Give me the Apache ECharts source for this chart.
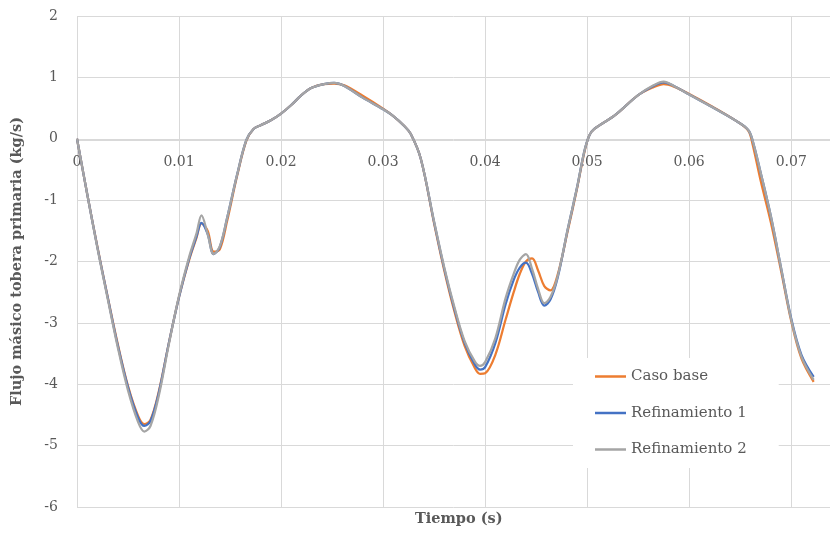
<!DOCTYPE html>
<html><head><meta charset="utf-8">
<script src="https://cdn.jsdelivr.net/npm/echarts@6/dist/echarts.min.js"></script>
<style>html,body{margin:0;padding:0;background:#fff}#c{width:830px;height:534px}</style>
</head><body><div id="c"></div>
<script>
const time = [0,0.001,0.002,0.003,0.004,0.005,0.006,0.0066,0.0072,0.008,
  0.009,0.010,0.011,0.0117,0.0122,0.0128,0.0134,0.014,0.0147,0.0157,
  0.0166,0.0173,0.018,0.019,0.020,0.021,0.022,0.023,0.0242,0.0252,
  0.0262,0.028,0.030,0.031,0.032,0.0327,0.0337,0.035,0.036,0.037,
  0.038,0.039,0.0395,0.040,0.041,0.042,0.0428,0.0434,0.044,0.0446,
  0.0452,0.0458,0.0464,0.0471,0.0481,0.049,0.0497,0.0502,0.0507,0.0527,
  0.055,0.0565,0.0575,0.0585,0.060,0.0622,0.0648,0.0658,0.0662,0.067,
  0.068,0.069,0.070,0.071,0.0722];
const casoBase = [0,-0.9,-1.76,-2.57,-3.35,-4.03,-4.52,-4.65,-4.58,-4.13,
  -3.33,-2.58,-1.97,-1.62,-1.38,-1.5,-1.84,-1.8,-1.35,-0.6,
  -0.03,0.16,0.22,0.3,0.41,0.55,0.71,0.83,0.89,0.9,
  0.87,0.7,0.49,0.37,0.22,0.08,-0.33,-1.38,-2.15,-2.82,
  -3.38,-3.74,-3.83,-3.82,-3.52,-2.95,-2.5,-2.2,-2.0,-1.95,
  -2.15,-2.4,-2.47,-2.22,-1.5,-0.82,-0.24,0.05,0.16,0.38,
  0.71,0.84,0.89,0.85,0.73,0.53,0.27,0.13,-0.08,-0.68,
  -1.36,-2.15,-2.97,-3.58,-3.96];
const refinamiento1 = [0,-0.9,-1.77,-2.58,-3.37,-4.05,-4.55,-4.68,-4.6,-4.15,
  -3.33,-2.58,-1.95,-1.6,-1.37,-1.55,-1.88,-1.76,-1.3,-0.58,
  -0.02,0.16,0.22,0.3,0.41,0.55,0.71,0.83,0.89,0.91,
  0.86,0.67,0.48,0.37,0.22,0.08,-0.33,-1.36,-2.12,-2.78,
  -3.33,-3.68,-3.76,-3.72,-3.33,-2.7,-2.3,-2.1,-2.02,-2.2,
  -2.5,-2.72,-2.62,-2.27,-1.47,-0.8,-0.22,0.05,0.16,0.38,
  0.71,0.86,0.92,0.86,0.72,0.52,0.27,0.14,-0.02,-0.55,
  -1.26,-2.1,-2.93,-3.52,-3.88];
const refinamiento2 = [0,-0.9,-1.78,-2.6,-3.4,-4.1,-4.62,-4.77,-4.68,-4.2,
  -3.35,-2.56,-1.92,-1.55,-1.25,-1.55,-1.88,-1.75,-1.3,-0.58,
  -0.02,0.16,0.22,0.3,0.41,0.55,0.71,0.83,0.89,0.91,
  0.86,0.67,0.48,0.37,0.22,0.08,-0.33,-1.35,-2.1,-2.75,
  -3.3,-3.63,-3.7,-3.64,-3.25,-2.6,-2.2,-1.97,-1.88,-2.12,
  -2.45,-2.68,-2.58,-2.25,-1.47,-0.8,-0.22,0.05,0.16,0.38,
  0.71,0.87,0.93,0.86,0.72,0.52,0.27,0.14,-0.02,-0.55,
  -1.26,-2.1,-2.95,-3.55,-3.93];
const seriesNames = ['Caso base','Refinamiento 1','Refinamiento 2'];
const seriesColors = ['#ED7D31','#4472C4','#A5A5A5'];
const xTicks = [0,0.01,0.02,0.03,0.04,0.05,0.06,0.07];

const zip = v => time.map((t,i)=>[t,v[i]]);
const serif = "'DejaVu Serif', 'Liberation Serif', serif";
const chart = echarts.init(document.getElementById('c'));
chart.setOption({
  animation:false,
  grid:{left:77,right:0,top:16,bottom:27},
  xAxis:{type:'value',min:0,max:0.0738,interval:0.01,position:'bottom',offset:-367,
    axisLine:{onZero:false,lineStyle:{color:'#d9d9d9',width:1}},
    axisTick:{show:false},
    splitLine:{show:true,lineStyle:{color:'#d9d9d9',width:1}},
    axisLabel:{color:'#595959',fontFamily:serif,fontSize:14,margin:15,showMaxLabel:false,
      formatter:v=>{const k=xTicks.find(x=>Math.abs(x-v)<1e-9);return k===undefined?'':String(k);}}
  },
  yAxis:{type:'value',min:-6,max:2,interval:1,
    name:'Flujo másico tobera primaria (kg/s)',nameLocation:'middle',nameGap:52,
    nameTextStyle:{color:'#595959',fontFamily:serif,fontSize:14.5,fontWeight:'bold'},
    axisLine:{show:false},axisTick:{show:false},
    splitLine:{lineStyle:{color:'#d9d9d9',width:1}},
    axisLabel:{color:'#595959',fontFamily:serif,fontSize:14,margin:19}
  },
  graphic:[{type:'text',left:415,top:512,style:{text:'Tiempo (s)',fill:'#595959',
    font:"bold 14.5px 'DejaVu Serif', serif"}}],
  legend:{orient:'vertical',left:573,top:358,backgroundColor:'#fff',icon:'rect',
    padding:[11,32,11,22],itemGap:21.5,itemWidth:31,itemHeight:2.5,
    textStyle:{color:'#595959',fontFamily:serif,fontSize:15},
    data:seriesNames},
  series:[casoBase,refinamiento1,refinamiento2].map((v,i)=>({
    name:seriesNames[i],type:'line',data:zip(v),smooth:0.35,symbol:'none',
    lineStyle:{color:seriesColors[i],width:2.25},itemStyle:{color:seriesColors[i]},z:2+i
  }))
});
</script></body></html>
